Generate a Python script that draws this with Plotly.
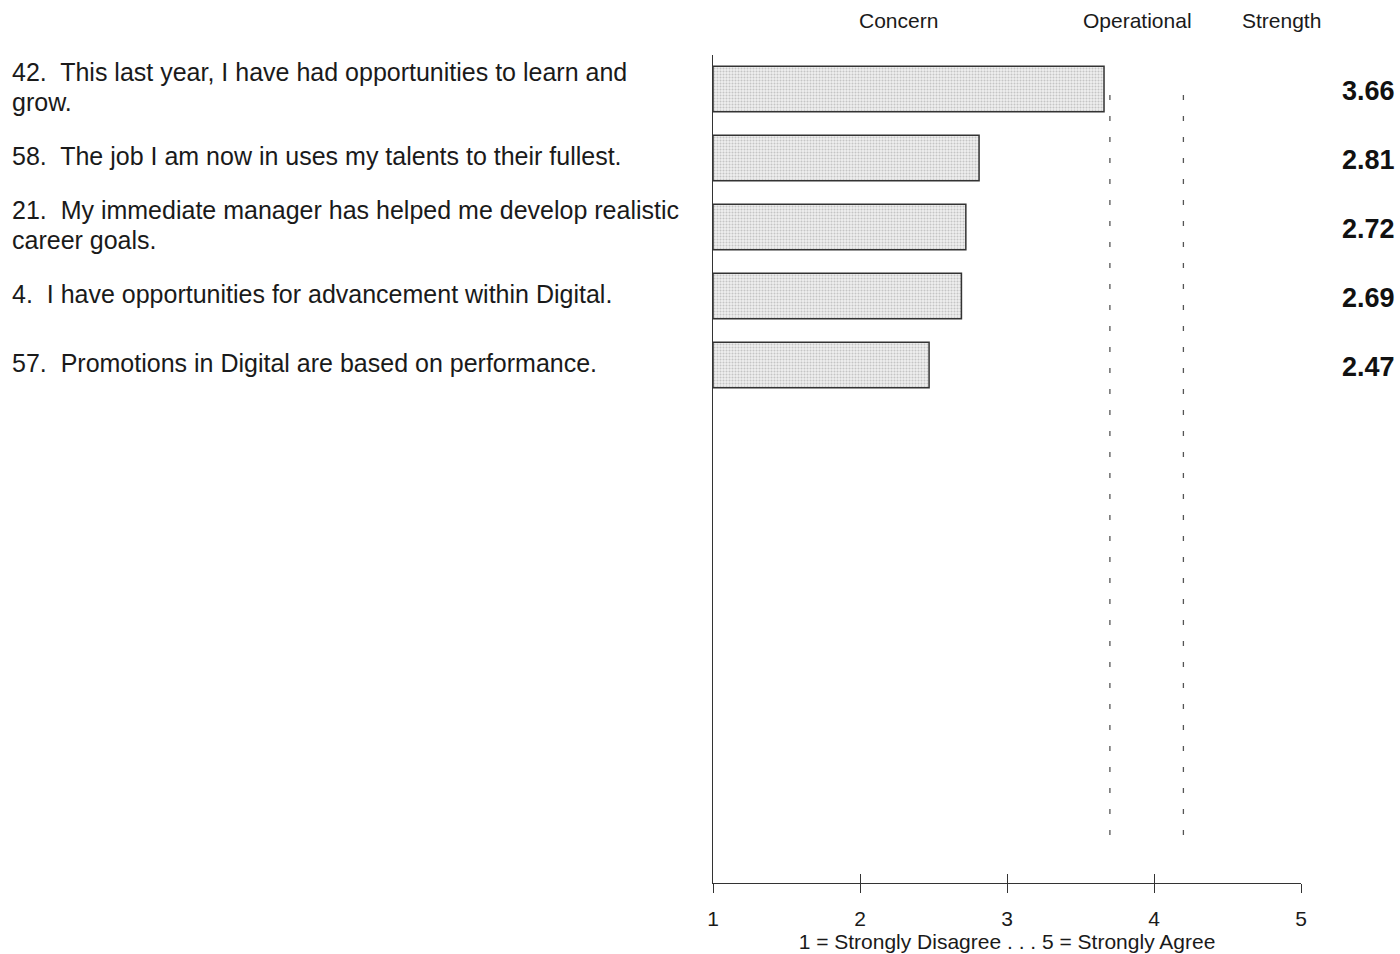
import plotly.graph_objects as go

# Survey items (top to bottom) and their mean scores
item_ids = ["Q42", "Q58", "Q21", "Q4", "Q57"]
item_lines = [
    ["42.  This last year, I have had opportunities to learn and", "grow."],
    ["58.  The job I am now in uses my talents to their fullest."],
    ["21.  My immediate manager has helped me develop realistic", "career goals."],
    ["4.  I have opportunities for advancement within Digital."],
    ["57.  Promotions in Digital are based on performance."],
]
scores = [3.66, 2.81, 2.72, 2.69, 2.47]

# Band thresholds and band captions
thresholds = [3.7, 4.2]
band_labels = ["Concern", "Operational", "Strength"]
band_label_x = [2.26, 3.89, 4.87]

scale_ticks = [1, 2, 3, 4, 5]
scale_title = "1 = Strongly Disagree . . . 5 = Strongly Agree"

FONT = "Liberation Sans, Arial, Helvetica, sans-serif"
W, H = 1400, 954
L, R, T, B = 713, 99, 55, 71
plot_w = W - L - R
LINE_H = 29.5

fig = go.Figure()

fig.add_trace(go.Bar(
    x=[s - 1 for s in scores],
    base=[1] * len(scores),
    y=item_ids,
    orientation="h",
    width=0.66,
    marker=dict(
        color="#e6e6e6",
        line=dict(color="#333333", width=1.5),
        pattern=dict(shape=".", fgcolor="#9a9a9a", bgcolor="#f0f0f0",
                     size=3, solidity=0.4),
    ),
    hoverinfo="skip",
    showlegend=False,
))

# Invisible trace for the secondary axis carrying the upward tick marks
fig.add_trace(go.Scatter(x=[1], y=[item_ids[0]], xaxis="x2", mode="markers",
                         marker=dict(opacity=0), showlegend=False,
                         hoverinfo="skip"))

# Dashed band boundaries
for t in thresholds:
    fig.add_shape(type="line", xref="x", yref="paper", x0=t, x1=t,
                  y0=0.058, y1=0.956,
                  line=dict(color="#555555", width=1.3, dash="5px,16px"))

annotations = []
for i, (lines, s) in enumerate(zip(item_lines, scores)):
    n = len(lines)
    for k, line in enumerate(lines):
        offset = ((n - 1) / 2 - k) * LINE_H
        annotations.append(dict(
            xref="paper", yref="y", x=(10 - L) / plot_w, y=i, yshift=offset + 2,
            text=line, showarrow=False, xanchor="left", yanchor="middle",
            align="left", font=dict(family=FONT, size=25, color="#1a1a1a"),
        ))
    annotations.append(dict(
        xref="paper", yref="y", x=(1397 - L) / plot_w, y=i + 0.03,
        text=f"<b>{s:.2f}</b>", showarrow=False, xanchor="right",
        yanchor="middle", font=dict(family=FONT, size=27, color="#111111"),
    ))

for lab, lx in zip(band_labels, band_label_x):
    annotations.append(dict(
        xref="x", yref="paper", x=lx, y=(H - B - 20) / (H - T - B),
        text=lab, showarrow=False, xanchor="center", yanchor="middle",
        font=dict(family=FONT, size=21, color="#1a1a1a"),
    ))

fig.update_layout(
    width=W, height=H,
    margin=dict(l=L, r=R, t=T, b=B, pad=0, autoexpand=False),
    paper_bgcolor="white", plot_bgcolor="white",
    annotations=annotations,
    xaxis=dict(
        range=[1, 5], tickvals=scale_ticks, ticktext=[str(v) for v in scale_ticks],
        showgrid=False, zeroline=False, showline=True, linecolor="#333333",
        linewidth=1.2, ticks="outside", ticklen=9, tickwidth=1.2,
        tickcolor="#333333", ticklabelstandoff=8, automargin=False,
        tickfont=dict(family=FONT, size=21, color="#1a1a1a"),
        title=dict(text=scale_title, standoff=0,
                   font=dict(family=FONT, size=21, color="#1a1a1a")),
        fixedrange=True,
    ),
    xaxis2=dict(
        overlaying="x", matches="x", anchor="y", side="bottom",
        range=[1, 5], tickvals=scale_ticks, showticklabels=False,
        showgrid=False, zeroline=False, showline=False, automargin=False,
        ticks="inside", ticklen=9, tickwidth=1.2, tickcolor="#333333",
    ),
    yaxis=dict(
        type="category", categoryarray=item_ids,
        range=[11.507, -0.493], automargin=False,
        showgrid=False, zeroline=False, showline=True, linecolor="#333333",
        linewidth=1.2, showticklabels=False, ticks="", fixedrange=True,
    ),
)

fig.write_html("out.html")
